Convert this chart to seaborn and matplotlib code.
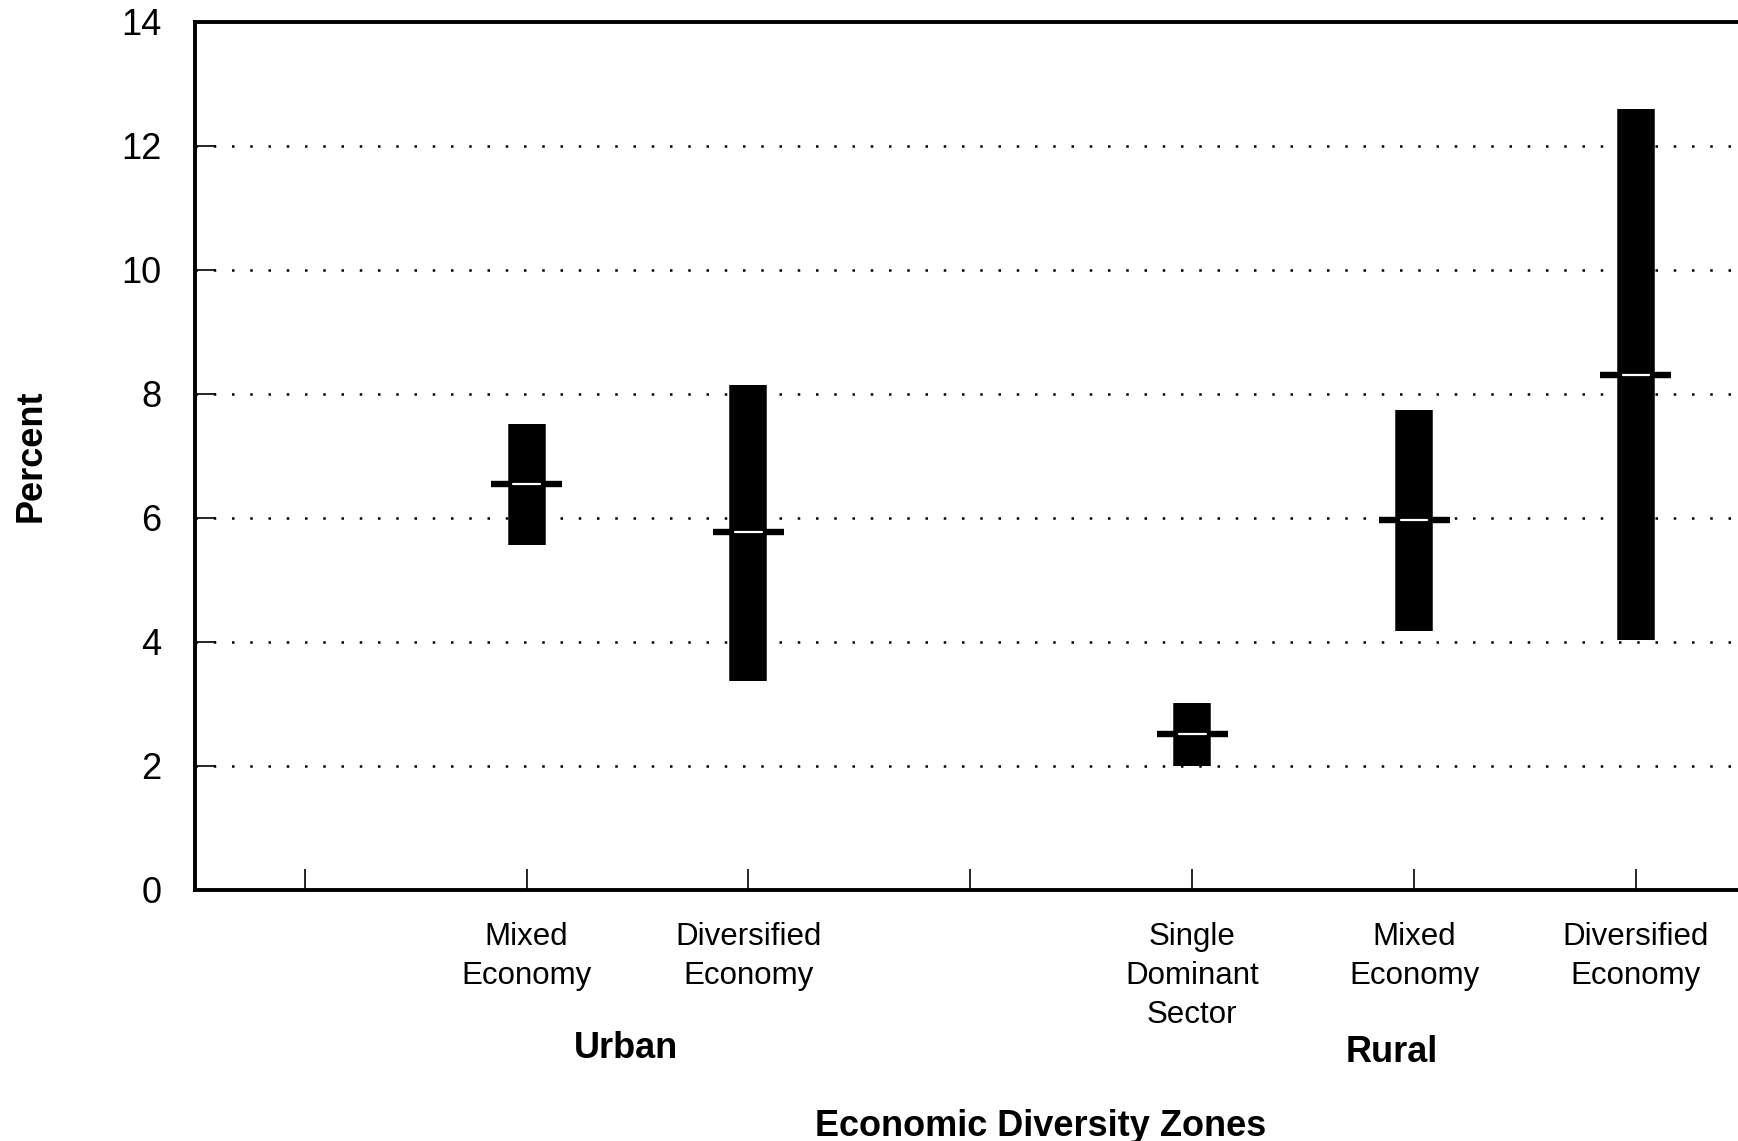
import pandas as pd
import matplotlib
matplotlib.use("Agg")
import matplotlib.pyplot as plt
import seaborn as sns

# x slots (1 and 4 are empty spacers between groups)
slots = [1, 2, 3, 4, 5, 6, 7]
slot_labels = ["", "Mixed\nEconomy", "Diversified\nEconomy", "",
               "Single\nDominant\nSector", "Mixed\nEconomy", "Diversified\nEconomy"]

zones = ["Urban Mixed", "Urban Diversified", "Rural Single", "Rural Mixed", "Rural Diversified"]
zone_pos = [2, 3, 5, 6, 7]
low = [5.57, 3.37, 2.0, 4.18, 4.03]
high = [7.51, 8.15, 3.01, 7.74, 12.6]
median = [6.54, 5.77, 2.51, 5.97, 8.30]

groups = ["Urban", "Rural"]
group_x = [2.45, 5.9]
group_y = [-0.182, -0.187]

yticks = [0, 2, 4, 6, 8, 10, 12, 14]

half = 0.16     # half length of the median mark
gap = 0.06      # half length of the white dash inside it

ranges = pd.DataFrame({"zone": zones * 2, "pos": zone_pos * 2, "percent": low + high})
marks = pd.DataFrame({
    "zone": zones * 2,
    "pos": [p - half for p in zone_pos] + [p + half for p in zone_pos],
    "percent": median * 2,
})
dash = pd.DataFrame({
    "zone": zones * 2,
    "pos": [p - gap for p in zone_pos] + [p + gap for p in zone_pos],
    "percent": median * 2,
})

sns.set_theme(style="ticks")
plt.rcParams["font.family"] = ["Liberation Sans", "DejaVu Sans"]
plt.rcParams["text.color"] = "black"
plt.rcParams["axes.labelcolor"] = "black"
plt.rcParams["xtick.color"] = "black"
plt.rcParams["ytick.color"] = "black"

fig = plt.figure(figsize=(17.38, 11.41), dpi=100)
ax = fig.add_axes([0.112, 0.22, 0.888, 0.761])

sns.lineplot(data=ranges, x="pos", y="percent", units="zone", estimator=None,
             color="black", lw=27, solid_capstyle="butt", legend=False, ax=ax)
sns.lineplot(data=marks, x="pos", y="percent", units="zone", estimator=None,
             color="black", lw=4.6, solid_capstyle="butt", legend=False, ax=ax)
sns.lineplot(data=dash, x="pos", y="percent", units="zone", estimator=None,
             color="white", lw=1.6, solid_capstyle="round", legend=False, ax=ax)

ax.set_xlim(0.504, 7.46)
ax.set_ylim(0, 14)
ax.set_xticks(slots)
ax.set_xticklabels(slot_labels, fontsize=22.5, linespacing=1.4)
ax.set_yticks(yticks)
ax.set_yticklabels([str(t) for t in yticks], fontsize=26)
ax.tick_params(axis="both", direction="in", length=15, width=1.2, color="black",
               bottom=True, left=True, top=False, right=False)
ax.tick_params(axis="x", pad=23)
ax.tick_params(axis="y", pad=24)

for y in yticks[1:-1]:
    ax.axhline(y, color="black", lw=1.8, linestyle=(0, (1, 6.3)), zorder=0)

for side in ["left", "bottom", "top"]:
    ax.spines[side].set_visible(True)
    ax.spines[side].set_color("black")
    ax.spines[side].set_linewidth(2.8)
ax.spines["right"].set_visible(False)

ax.set_ylabel("Percent", fontsize=26, fontweight="bold")
ax.yaxis.set_label_coords(-0.106, 0.5)
ax.yaxis.label.set_va("center")
ax.set_xlabel("Economic Diversity Zones", fontsize=26, fontweight="bold")
ax.xaxis.set_label_coords(0.548, -0.272)
ax.xaxis.label.set_va("center")

for name, gx, gy in zip(groups, group_x, group_y):
    ax.text(gx, gy, name, transform=ax.get_xaxis_transform(), ha="center",
            va="center", fontsize=26, fontweight="bold")

fig.savefig("out.png", dpi=100, facecolor="white")
